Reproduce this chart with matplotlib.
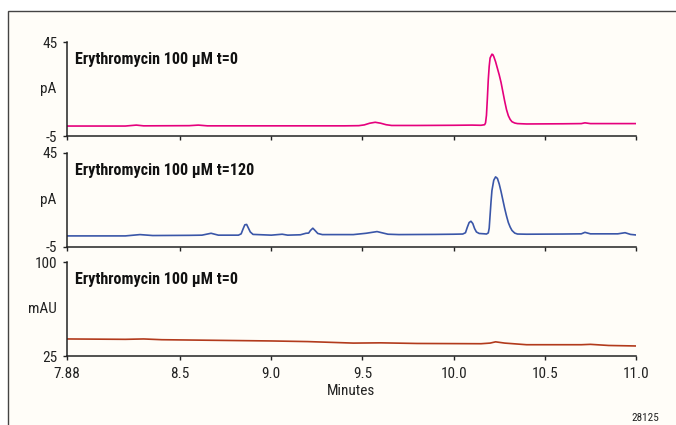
import matplotlib
matplotlib.use("Agg")
import matplotlib.pyplot as plt
from matplotlib.patches import Rectangle

plt.rcParams['font.family'] = ['Roboto Condensed', 'DejaVu Sans']

# retention time (minutes) and detector signal
t0_time = [7.88, 8.20, 8.26, 8.30, 8.55, 8.60, 8.65, 9.00, 9.40, 9.48, 9.51, 9.54, 9.57, 9.60,
           9.63, 9.66, 9.80, 10.00, 10.10, 10.15, 10.17, 10.175, 10.18, 10.185, 10.19, 10.195,
           10.20, 10.21, 10.215, 10.22, 10.23, 10.24, 10.25, 10.26, 10.27, 10.28, 10.29, 10.30,
           10.31, 10.32, 10.335, 10.35, 10.40, 10.60, 10.70, 10.72, 10.75, 10.90, 11.0]
t0_pA = [0.3, 0.3, 0.8, 0.4, 0.5, 0.8, 0.4, 0.4, 0.4, 0.5, 0.9, 1.8, 2.3, 1.8,
         1.0, 0.6, 0.6, 0.7, 0.8, 0.7, 1.0, 2.0, 6.0, 15.0, 25.0, 32.0,
         36.5, 38.5, 38.3, 37.3, 34.5, 31.0, 27.5, 23.5, 18.5, 13.5, 9.0, 5.8,
         3.8, 2.6, 1.9, 1.6, 1.4, 1.5, 1.6, 2.0, 1.6, 1.6, 1.6]

t120_time = [7.88, 8.20, 8.28, 8.35, 8.55, 8.62, 8.67, 8.71, 8.82, 8.835, 8.845, 8.855, 8.865,
             8.875, 8.885, 8.90, 9.00, 9.06, 9.09, 9.16, 9.19, 9.205, 9.215, 9.228, 9.24, 9.255,
             9.28, 9.45, 9.52, 9.58, 9.64, 9.70, 9.90, 10.00, 10.05, 10.065, 10.075, 10.085,
             10.095, 10.105, 10.115, 10.125, 10.14, 10.17, 10.18, 10.19, 10.195, 10.20, 10.205,
             10.21, 10.22, 10.23, 10.24, 10.25, 10.26, 10.27, 10.28, 10.29, 10.30, 10.31, 10.32,
             10.335, 10.35, 10.40, 10.60, 10.70, 10.72, 10.75, 10.90, 10.94, 10.97, 11.0]
t120_pA = [0.9, 0.9, 1.6, 1.1, 1.2, 1.3, 2.3, 1.3, 1.3, 2.0, 4.5, 6.8, 7.0,
           5.0, 3.0, 1.7, 1.3, 1.8, 1.3, 1.5, 2.3, 2.4, 3.8, 5.0, 3.8, 2.2,
           1.6, 1.6, 2.3, 3.2, 1.8, 1.6, 1.7, 1.8, 1.9, 2.6, 5.5, 8.0,
           8.7, 7.5, 4.8, 3.0, 2.2, 2.0, 1.9, 2.5, 5.0, 12.0, 19.0,
           25.0, 30.5, 32.3, 31.5, 28.5, 24.5, 20.0, 15.5, 11.5, 8.0, 5.6, 3.8,
           2.4, 1.9, 1.8, 1.9, 2.0, 2.8, 2.0, 2.0, 2.6, 1.7, 1.4]

uv_time = [7.88, 8.20, 8.30, 8.40, 9.00, 9.20, 9.45, 9.60, 9.80, 10.15, 10.20, 10.23, 10.28,
           10.40, 10.70, 10.75, 10.85, 11.0]
uv_mAU = [38.6, 38.3, 38.6, 38.0, 37.0, 36.5, 35.3, 35.5, 35.0, 34.8, 35.3, 36.3, 35.3,
          34.0, 34.0, 34.3, 33.4, 33.0]

titles = ['Erythromycin 100 µM t=0', 'Erythromycin 100 µM t=120', 'Erythromycin 100 µM t=0']
units = ['pA', 'pA', 'mAU']
ylims = [(-5, 45), (-5, 45), (25, 100)]
colors = ['#E5007D', '#3A56A8', '#B23A1C']
xticks = [7.88, 8.5, 9.0, 9.5, 10.0, 10.5, 11.0]
xticklabels = ['7.88', '8.5', '9.0', '9.5', '10.0', '10.5', '11.0']

bg = '#FFFDF8'
fig = plt.figure(figsize=(6.76, 4.25), dpi=100)
fig.patch.set_facecolor('white')

# framed panel behind the chart
W, H = 676, 425
fig.patches.append(Rectangle((8 / W, -0.1), 1.1, 1 - 11 / H + 0.1, transform=fig.transFigure,
                             facecolor=bg, edgecolor='#444444', linewidth=1.0, zorder=-10))

left, width = 67 / W, (636 - 67) / W
tops = [42, 153, 262]
series = [(t0_time, t0_pA), (t120_time, t120_pA), (uv_time, uv_mAU)]
fs = 11

for i in range(3):
    bottom = 1 - (tops[i] + 94) / H
    ax = fig.add_axes([left, bottom, width, 94 / H])
    ax.set_facecolor('none')
    x, y = series[i]
    ax.plot(x, y, color=colors[i], linewidth=1.2)
    ax.set_xlim(7.88, 11.0)
    ax.set_ylim(*ylims[i])
    for s in ['top', 'right']:
        ax.spines[s].set_visible(False)
    for s in ['left', 'bottom']:
        ax.spines[s].set_color('#222222')
        ax.spines[s].set_linewidth(1.1)
    ax.set_yticks(list(ylims[i]))
    ax.set_yticklabels([str(v) for v in ylims[i]])
    ax.set_xticks(xticks)
    if i == 2:
        ax.set_xticklabels(xticklabels)
        ax.set_xlabel('Minutes', fontsize=fs, labelpad=2, color='#222222')
    else:
        ax.set_xticklabels([])
    ax.tick_params(axis='both', direction='out', length=3, width=1.0, color='#222222',
                   labelsize=fs, labelcolor='#222222')
    ax.tick_params(axis='y', pad=4)
    ax.tick_params(axis='x', pad=5)
    ax.text(-0.018, 0.5, units[i], transform=ax.transAxes, ha='right', va='center',
            fontsize=fs, color='#222222')
    ax.text(0.014, 0.81, titles[i], transform=ax.transAxes, ha='left', va='center',
            fontsize=11.6, fontweight='bold', color='#111111')

fig.text(645 / W, 1 - 418 / H, '28125', ha='center', va='center', fontsize=8, color='#222222')

fig.savefig('out.png', dpi=100, facecolor=fig.get_facecolor())
